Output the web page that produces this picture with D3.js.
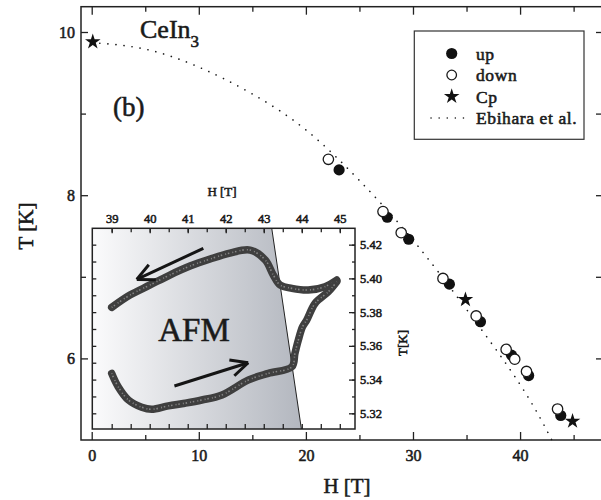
<!DOCTYPE html>
<html>
<head>
<meta charset="utf-8">
<script src="https://cdn.jsdelivr.net/npm/d3@7"></script>
<style>
body { margin: 0; background: #fff; }
svg { display: block; }
text { font-family: "Liberation Serif", "Times New Roman", serif; fill: #1a1a1a; }
text.heavy { stroke: #1a1a1a; stroke-width: 0.55px; }
</style>
</head>
<body>
<svg id="chart" width="601" height="500"></svg>
<script>
// main panel, H [T] vs T [K]
const upPoints = [[23.1, 8.31], [27.6, 7.73], [29.6, 7.46], [33.4, 6.91], [36.3, 6.45], [39.2, 6.04], [40.8, 5.79], [43.8, 5.30]];
const downPoints = [[22.1, 8.44], [27.2, 7.80], [28.9, 7.54], [32.8, 6.98], [35.9, 6.52], [38.7, 6.11], [39.5, 5.99], [40.6, 5.84], [43.5, 5.38]];
const cpPoints = [[0.1, 9.88], [34.9, 6.72], [44.9, 5.23]];
const ebiharaLine = [[0, 9.87], [5, 9.79], [10, 9.57], [15, 9.24], [20, 8.80], [25, 8.18], [30, 7.45], [35, 6.60], [40, 5.68], [43.2, 4.94]];

const mainXTicks = [0, 10, 20, 30, 40];
const mainXMinor = [5, 15, 25, 35, 45];
const mainYTicks = [6, 8, 10];
const mainYMinor = [7, 9];

const legendItems = [
    { label: "up", kind: "up" },
    { label: "down", kind: "down" },
    { label: "Cp", kind: "cp" },
    { label: "Ebihara et al.", kind: "line" }
];

// inset, hysteresis loop T(H)
const sweepDown = [[39.00, 5.3828], [39.48, 5.3901], [40.01, 5.3961], [40.53, 5.4020], [41.06, 5.4073], [41.59, 5.4115], [42.11, 5.4150], [42.64, 5.4168], [43.04, 5.4109], [43.25, 5.4020], [43.43, 5.3961], [43.74, 5.3941], [44.17, 5.3931], [44.61, 5.3951], [44.92, 5.3990]];
const sweepUp = [[39.00, 5.3437], [39.17, 5.3358], [39.44, 5.3279], [39.79, 5.3236], [40.05, 5.3224], [40.49, 5.3244], [40.93, 5.3260], [41.37, 5.3279], [41.90, 5.3309], [42.60, 5.3398], [43.12, 5.3437], [43.74, 5.3476], [43.82, 5.3556], [43.91, 5.3635], [44.02, 5.3713], [44.13, 5.3753], [44.35, 5.3852], [44.70, 5.3921], [44.92, 5.3980]];
const afmRegion = [[38.49, 5.4297], [43.21, 5.4297], [43.99, 5.3107], [38.49, 5.3107]];
const sweepArrows = [
    { from: [41.41, 5.4178], to: [39.66, 5.3994] },
    { from: [40.65, 5.3362], to: [42.59, 5.3500] }
];
const insetXTicks = [39, 40, 41, 42, 43, 44, 45];
const insetXMinor = [39, 39.5, 40, 40.5, 41, 41.5, 42, 42.5, 43, 43.5, 44, 44.5, 45];
const insetYTicks = [5.32, 5.34, 5.36, 5.38, 5.40, 5.42];
const insetYMinor = [5.32, 5.33, 5.34, 5.35, 5.36, 5.37, 5.38, 5.39, 5.40, 5.41, 5.42];

const svg = d3.select("#chart");

const x = d3.scaleLinear().domain([-1, 47.65]).range([81, 602]);
const y = d3.scaleLinear().domain([5, 10.31]).range([440, 6.7]);

const ix = d3.scaleLinear().domain([38.49, 45.40]).range([92.3, 355]);
const iy = d3.scaleLinear().domain([5.3107, 5.4297]).range([429, 228.3]);

function styleAxis(g, size) {
    g.select(".domain").remove();
    g.selectAll("line").attr("stroke", "#222").attr("stroke-width", 1.3);
    g.selectAll("text")
        .attr("class", "heavy")
        .style("font-family", "'Liberation Serif', serif")
        .style("font-size", size + "px")
        .attr("fill", "#1a1a1a");
}

// ---- main axes
svg.append("g").attr("transform", "translate(0,440)")
    .call(d3.axisBottom(x).tickValues(mainXTicks).tickSize(-8).tickPadding(10).tickFormat(d3.format("d")))
    .call(g => styleAxis(g, 16));
svg.append("g").attr("transform", "translate(0,440)")
    .call(d3.axisBottom(x).tickValues(mainXMinor).tickSize(-5).tickFormat(""))
    .call(g => styleAxis(g, 16));
svg.append("g").attr("transform", "translate(0,6.7)")
    .call(d3.axisTop(x).tickValues(mainXTicks).tickSize(-8).tickFormat(""))
    .call(g => styleAxis(g, 16));
svg.append("g").attr("transform", "translate(0,6.7)")
    .call(d3.axisTop(x).tickValues(mainXMinor).tickSize(-5).tickFormat(""))
    .call(g => styleAxis(g, 16));
svg.append("g").attr("transform", "translate(81,0)")
    .call(d3.axisLeft(y).tickValues(mainYTicks).tickSize(-7).tickPadding(6).tickFormat(d3.format("d")))
    .call(g => styleAxis(g, 16));
svg.append("g").attr("transform", "translate(81,0)")
    .call(d3.axisLeft(y).tickValues(mainYMinor).tickSize(-5).tickFormat(""))
    .call(g => styleAxis(g, 16));
svg.append("g").attr("transform", "translate(602,0)")
    .call(d3.axisRight(y).tickValues(mainYTicks.concat(mainYMinor)).tickSize(-6).tickFormat(""))
    .call(g => styleAxis(g, 16));

svg.append("rect")
    .attr("x", x.range()[0]).attr("y", y.range()[1])
    .attr("width", x.range()[1] - x.range()[0])
    .attr("height", y.range()[0] - y.range()[1])
    .attr("fill", "none").attr("stroke", "#222").attr("stroke-width", 1.5);

svg.append("text").attr("class", "heavy").attr("x", 347).attr("y", 493)
    .attr("text-anchor", "middle").style("font-size", "21px")
    .text("H [T]");
svg.append("text").attr("class", "heavy").attr("transform", "translate(33,226) rotate(-90)")
    .attr("text-anchor", "middle").style("font-size", "21px")
    .text("T [K]");

const ce = svg.append("text").attr("class", "heavy").attr("x", 140).attr("y", 38).style("font-size", "26px");
ce.append("tspan").text("CeIn");
ce.append("tspan").attr("dy", 9).style("font-size", "17px").text("3");

svg.append("text").attr("class", "heavy").attr("x", 113).attr("y", 116).style("font-size", "27px").text("(b)");

// ---- inset
const defs = svg.append("defs");
const grad = defs.append("linearGradient").attr("id", "afmGrad")
    .attr("gradientUnits", "userSpaceOnUse")
    .attr("x1", ix(38.49)).attr("x2", ix(43.99)).attr("y1", 0).attr("y2", 0);
grad.append("stop").attr("offset", "0%").attr("stop-color", "#fbfbfc");
grad.append("stop").attr("offset", "100%").attr("stop-color", "#b3b7bf");

svg.append("rect")
    .attr("x", ix.range()[0]).attr("y", iy.range()[1])
    .attr("width", ix.range()[1] - ix.range()[0])
    .attr("height", iy.range()[0] - iy.range()[1])
    .attr("fill", "#fff");

svg.append("path")
    .datum(afmRegion)
    .attr("d", d3.line().x(d => ix(d[0])).y(d => iy(d[1])))
    .attr("fill", "url(#afmGrad)");

svg.append("line")
    .attr("x1", ix(afmRegion[1][0])).attr("y1", iy(afmRegion[1][1]))
    .attr("x2", ix(afmRegion[2][0])).attr("y2", iy(afmRegion[2][1]))
    .attr("stroke", "#222").attr("stroke-width", 1);

const loopLine = d3.line().x(d => ix(d[0])).y(d => iy(d[1])).curve(d3.curveCatmullRom);
[sweepDown, sweepUp].forEach(branch => {
    svg.append("path").datum(branch).attr("d", loopLine)
        .attr("fill", "none").attr("stroke", "#3f3f3f").attr("stroke-width", 7.5)
        .attr("stroke-linecap", "round").attr("stroke-linejoin", "round");
    svg.append("path").datum(branch).attr("d", loopLine)
        .attr("fill", "none").attr("stroke", "#858585").attr("stroke-width", 1.6)
        .attr("stroke-dasharray", "1,1.8,1.5,3.1");
});

sweepArrows.forEach(a => {
    const x1 = ix(a.from[0]), y1 = iy(a.from[1]);
    const x2 = ix(a.to[0]), y2 = iy(a.to[1]);
    const ang = Math.atan2(y1 - y2, x1 - x2);
    const g = svg.append("g").attr("stroke", "#151515").attr("stroke-width", 3).attr("fill", "none")
        .attr("stroke-linecap", "butt");
    g.append("line").attr("x1", x1).attr("y1", y1).attr("x2", x2).attr("y2", y2);
    [-0.45, 0.45].forEach(da => {
        g.append("line").attr("x1", x2).attr("y1", y2)
            .attr("x2", x2 + 19 * Math.cos(ang + da))
            .attr("y2", y2 + 19 * Math.sin(ang + da));
    });
});

svg.append("text").attr("class", "heavy").attr("x", 194).attr("y", 341)
    .attr("text-anchor", "middle").style("font-size", "33px").text("AFM");

svg.append("g").attr("transform", `translate(0,${iy.range()[1]})`)
    .call(d3.axisTop(ix).tickValues(insetXTicks).tickSize(-5).tickPadding(5).tickFormat(d3.format("d")))
    .call(g => styleAxis(g, 12.5));
svg.append("g").attr("transform", `translate(0,${iy.range()[1]})`)
    .call(d3.axisTop(ix).tickValues(insetXMinor).tickSize(-4).tickFormat(""))
    .call(g => styleAxis(g, 12));
svg.append("g").attr("transform", `translate(0,${iy.range()[0]})`)
    .call(d3.axisBottom(ix).tickValues(insetXMinor).tickSize(-5).tickFormat(""))
    .call(g => styleAxis(g, 12));
svg.append("g").attr("transform", `translate(${ix.range()[0]},0)`)
    .call(d3.axisLeft(iy).tickValues(insetYMinor).tickSize(-4).tickFormat(""))
    .call(g => styleAxis(g, 12));
svg.append("g").attr("transform", `translate(${ix.range()[1]},0)`)
    .call(d3.axisRight(iy).tickValues(insetYTicks).tickSize(-6).tickPadding(5).tickFormat(d3.format(".2f")))
    .call(g => styleAxis(g, 12.5));
svg.append("g").attr("transform", `translate(${ix.range()[1]},0)`)
    .call(d3.axisRight(iy).tickValues(insetYMinor).tickSize(-3).tickFormat(""))
    .call(g => styleAxis(g, 12));

svg.append("rect")
    .attr("x", ix.range()[0]).attr("y", iy.range()[1])
    .attr("width", ix.range()[1] - ix.range()[0])
    .attr("height", iy.range()[0] - iy.range()[1])
    .attr("fill", "none").attr("stroke", "#222").attr("stroke-width", 1.5);

svg.append("text").attr("class", "heavy").attr("x", 222).attr("y", 196)
    .attr("text-anchor", "middle").style("font-size", "13px")
    .text("H [T]");
svg.append("text").attr("class", "heavy").attr("transform", "translate(407,343) rotate(-90)")
    .attr("text-anchor", "middle").style("font-size", "13px")
    .text("T[K]");

// ---- main data
svg.append("path").datum(ebiharaLine)
    .attr("d", d3.line().x(d => x(d[0])).y(d => y(d[1])).curve(d3.curveNatural))
    .attr("fill", "none").attr("stroke", "#1a1a1a").attr("stroke-width", 1.6)
    .attr("stroke-linecap", "round").attr("stroke-dasharray", "0.1,8");

svg.selectAll(".up").data(upPoints).enter().append("circle")
    .attr("class", "up")
    .attr("cx", d => x(d[0])).attr("cy", d => y(d[1])).attr("r", 5.6)
    .attr("fill", "#111");

svg.selectAll(".down").data(downPoints).enter().append("circle")
    .attr("class", "down")
    .attr("cx", d => x(d[0])).attr("cy", d => y(d[1])).attr("r", 5.2)
    .attr("fill", "#fff").attr("stroke", "#1a1a1a").attr("stroke-width", 1.3);

const star = d3.symbol().type(d3.symbolStar).size(75);
svg.selectAll(".cp").data(cpPoints).enter().append("path")
    .attr("class", "cp")
    .attr("transform", d => `translate(${x(d[0])},${y(d[1])})`)
    .attr("d", star).attr("fill", "#111");

// ---- legend
svg.append("rect").attr("x", 414.3).attr("y", 31).attr("width", 169.7).attr("height", 108.3)
    .attr("fill", "#fff").attr("stroke", "#333").attr("stroke-width", 1.2);

const leg = svg.selectAll(".leg").data(legendItems).enter().append("g")
    .attr("class", "leg")
    .attr("transform", (d, i) => `translate(0,${53.5 + i * 21.5})`);
leg.each(function (d) {
    const g = d3.select(this);
    if (d.kind === "up") {
        g.append("circle").attr("cx", 451.7).attr("cy", 0).attr("r", 5.6).attr("fill", "#111");
    } else if (d.kind === "down") {
        g.append("circle").attr("cx", 451.7).attr("cy", 0).attr("r", 4.8)
            .attr("fill", "#fff").attr("stroke", "#1a1a1a").attr("stroke-width", 1.3);
    } else if (d.kind === "cp") {
        g.append("path").attr("transform", "translate(451.7,0)").attr("d", star).attr("fill", "#111");
    } else {
        g.append("line").attr("x1", 431).attr("x2", 466).attr("y1", 0).attr("y2", 0)
            .attr("stroke", "#1a1a1a").attr("stroke-width", 1.5)
            .attr("stroke-linecap", "round").attr("stroke-dasharray", "0.1,8");
    }
});
leg.append("text").attr("class", "heavy").attr("x", 476).attr("y", 6)
    .style("font-size", "17.5px").style("letter-spacing", "0.6px")
    .text(d => d.label);
</script>
</body>
</html>
